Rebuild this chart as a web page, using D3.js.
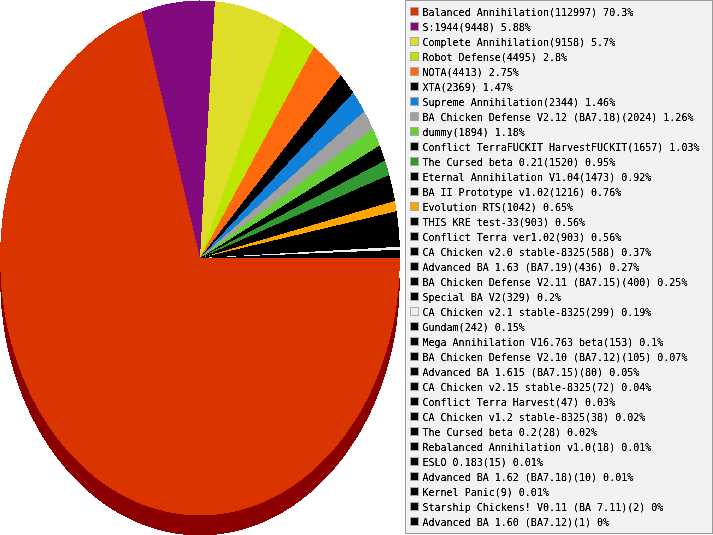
<!DOCTYPE html>
<html>
<head>
<meta charset="utf-8">
<script src="https://cdn.jsdelivr.net/npm/d3@7"></script>
<style>
html, body { margin: 0; padding: 0; background: #fff; overflow: hidden; }
svg { display: block; }
text { font-family: "DejaVu Sans Mono", monospace; font-size: 10px; fill: #000; }
</style>
</head>
<body>
<svg id="chart" width="713" height="535">
  <defs>
    <!-- the reference text is harder than normal smoothing, so steepen the glyph alpha -->
    <filter id="hard" x="0" y="-20%" width="100%" height="140%" color-interpolation-filters="sRGB">
      <feComponentTransfer>
        <feFuncA type="linear" slope="1.8" intercept="-0.2"></feFuncA>
      </feComponentTransfer>
    </filter>
  </defs>
</svg>
<script>
var names = ["Balanced Annihilation", "S:1944", "Complete Annihilation", "Robot Defense", "NOTA", "XTA",
    "Supreme Annihilation", "BA Chicken Defense V2.12 (BA7.18)", "dummy", "Conflict TerraFUCKIT HarvestFUCKIT",
    "The Cursed beta 0.21", "Eternal Annihilation V1.04", "BA II Prototype v1.02", "Evolution RTS",
    "THIS KRE test-33", "Conflict Terra ver1.02", "CA Chicken v2.0 stable-8325", "Advanced BA 1.63 (BA7.19)",
    "BA Chicken Defense V2.11 (BA7.15)", "Special BA V2", "CA Chicken v2.1 stable-8325", "Gundam",
    "Mega Annihilation V16.763 beta", "BA Chicken Defense V2.10 (BA7.12)", "Advanced BA 1.615 (BA7.15)",
    "CA Chicken v2.15 stable-8325", "Conflict Terra Harvest", "CA Chicken v1.2 stable-8325", "The Cursed beta 0.2",
    "Rebalanced Annihilation v1.0", "ESLO 0.183", "Advanced BA 1.62 (BA7.18)", "Kernel Panic",
    "Starship Chickens! V0.11 (BA 7.11)", "Advanced BA 1.60 (BA7.12)"];
var counts = [112997, 9448, 9158, 4495, 4413, 2369, 2344, 2024, 1894, 1657, 1520, 1473, 1216, 1042, 903, 903,
    588, 436, 400, 329, 299, 242, 153, 105, 80, 72, 47, 38, 28, 18, 15, 10, 9, 2, 1];
var percents = ["70.3", "5.88", "5.7", "2.8", "2.75", "1.47", "1.46", "1.26", "1.18", "1.03", "0.95", "0.92",
    "0.76", "0.65", "0.56", "0.56", "0.37", "0.27", "0.25", "0.2", "0.19", "0.15", "0.1", "0.07", "0.05", "0.04",
    "0.03", "0.02", "0.02", "0.01", "0.01", "0.01", "0.01", "0", "0"];
var colors = ["#da3500", "#800a7e", "#dedd27", "#bbe600", "#ff6a0e", "#000000", "#1080d8", "#a0a0a0", "#66d033",
    "#000000", "#339933", "#000000", "#000000", "#ffa500", "#000000", "#000000", "#000000", "#000000", "#000000",
    "#000000", "#eeeeee", "#000000", "#000000", "#000000", "#000000", "#000000", "#000000", "#000000", "#000000",
    "#000000", "#000000", "#000000", "#000000", "#000000", "#000000"];

var svg = d3.select("#chart");
var cx = 200, cy = 258, rx = 200, ry = 257.5, depth = 20;

var rows = names.map(function(n, i){ return {name: n, count: counts[i], pct: percents[i], color: colors[i]}; });

var pie = d3.pie().sort(null).value(d => d.count)
    .startAngle(Math.PI / 2).endAngle(Math.PI * 2.5);
var arc = d3.arc().innerRadius(0).outerRadius(rx);
var slices = pie(rows);

// only the big slice ever shows its side
svg.append("path")
    .attr("transform", `translate(${cx},${cy + depth}) scale(1,${ry / rx})`)
    .attr("d", arc(slices[0]))
    .attr("fill", "#8b0000")
    .attr("shape-rendering", "crispEdges");

// crispEdges keeps the black slices from showing seams
svg.append("g")
    .attr("transform", `translate(${cx},${cy}) scale(1,${ry / rx})`)
    .attr("shape-rendering", "crispEdges")
    .selectAll("path")
    .data(slices)
    .enter().append("path")
    .attr("d", arc)
    .attr("fill", d => d.data.color);

// legend
svg.append("rect")
    .attr("x", 405.5).attr("y", 0.5)
    .attr("width", 307).attr("height", 533)
    .attr("fill", "#f2f2f2")
    .attr("stroke", "#999");

var y = d3.scaleLinear().domain([0, rows.length - 1]).range([12, 522]);

var row = svg.append("g").selectAll("g")
    .data(rows)
    .enter().append("g")
    .attr("transform", (d, i) => `translate(0,${y(i)})`);

row.append("rect")
    .attr("x", 410.5).attr("y", -4.5)
    .attr("width", 8).attr("height", 8)
    .attr("fill", d => d.color)
    .attr("stroke", "#aaa");

row.append("text")
    .attr("x", 422.5).attr("y", 4)
    .attr("filter", "url(#hard)")
    .text(d => `${d.name}(${d.count}) ${d.pct}%`);
</script>
</body>
</html>
